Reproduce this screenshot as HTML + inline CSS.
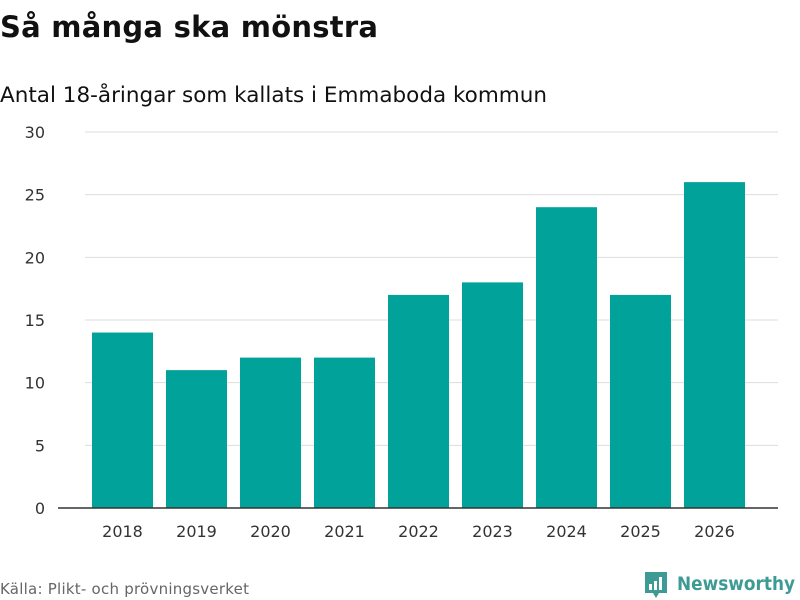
<!DOCTYPE html>
<html><head><meta charset="utf-8"><style>
body{margin:0;width:800px;height:600px;background:#fff;font-family:"DejaVu Sans","Liberation Sans",sans-serif;overflow:hidden}
svg{position:absolute;left:0;top:0}
</style></head><body>
<svg id="c" width="800" height="600">
<text x="0" y="37" font-size="29" font-weight="bold" fill="#111" textLength="378">Så många ska mönstra</text>
<text x="0" y="102" font-size="21.5" fill="#111" textLength="547">Antal 18-åringar som kallats i Emmaboda kommun</text>
<text x="0" y="594" font-size="15" fill="#666" textLength="249">Källa: Plikt- och prövningsverket</text>
<g>
<path d="M645 572h22v21h-8l-3 5-3-5h-8z" fill="#3d9b94"/>
<rect x="649" y="584" width="3" height="6" fill="#fff"/><rect x="654" y="581" width="3" height="9" fill="#fff"/><rect x="659" y="577" width="3" height="13" fill="#fff"/>
<text x="677" y="590" font-size="19" font-weight="bold" fill="#3d9b94" textLength="118" lengthAdjust="spacingAndGlyphs">Newsworthy</text>
</g>
<g id="grid"></g><g id="bars"></g><g id="xl"></g>
<line x1="58" x2="778" y1="508" y2="508" stroke="#333" stroke-width="1.5"/>
</svg>
<script>
const categories=["2018","2019","2020","2021","2022","2023","2024","2025","2026"];
const values=[14,11,12,12,17,18,24,17,26];
const yTicks=[0,5,10,15,20,25,30];
const NS="http://www.w3.org/2000/svg";
const y=v=>508-v*(376/30);
const x=i=>85.5+i*74+37;
function mk(t,a,p){const e=document.createElementNS(NS,t);for(const k in a)e.setAttribute(k,a[k]);p.appendChild(e);return e;}
const g=document.getElementById('grid');
yTicks.forEach(t=>{
 if(t>0){const l=mk('line',{x1:85,x2:778,y1:y(t),y2:y(t),stroke:'#ddd','stroke-width':1},g);
 
 }
 const tx=mk('text',{x:45,y:y(t)+6,'font-size':16,fill:'#333','text-anchor':'end'},g);tx.textContent=t;
 
 
});
const b=document.getElementById('bars'),xl=document.getElementById('xl');
categories.forEach((c,i)=>{
 const r=mk('rect',{x:x(i)-30.5,y:y(values[i]),width:61,height:508-y(values[i]),fill:'#00a29a'},b);
 
 
 const t=mk('text',{x:x(i),y:537,'font-size':16,fill:'#333','text-anchor':'middle'},xl);t.textContent=c;
 
 
});
</script>
</body></html>
